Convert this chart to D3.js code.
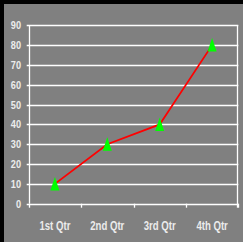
<!DOCTYPE html>
<html><head><meta charset="utf-8">
<script src="https://cdn.jsdelivr.net/npm/d3@7"></script>
<style>
html,body{margin:0;padding:0;background:#000;overflow:hidden;}
svg{display:block;}
</style></head>
<body>
<script>
const categories = ["1st Qtr","2nd Qtr","3rd Qtr","4th Qtr"];
const values = [10, 30, 40, 80];
const yTicks = [0,10,20,30,40,50,60,70,80,90];

(function(){
const W = 243, H = 242;
const svg = d3.select("body").append("svg").attr("width", W).attr("height", H);
svg.append("rect").attr("width", W).attr("height", H).attr("fill", "#000");
svg.append("rect").attr("x", 4).attr("y", 4).attr("width", W - 4).attr("height", H - 4).attr("fill", "#808080");

const mLeft = 28.7, mRight = 238.3, mTop = 25.3, mBottom = 203.7;
const x = d3.scaleBand().domain(categories).range([mLeft, mRight]).padding(0);
const y = d3.scaleLinear().domain([0, 90]).range([mBottom, mTop]);
const font = "'Liberation Sans',Arial,sans-serif";
const sx = 0.8;

svg.append("g").selectAll("line").data(yTicks).join("line")
  .attr("x1", mLeft - 2).attr("x2", mRight)
  .attr("y1", d => Math.round(y(d)) + 0.5).attr("y2", d => Math.round(y(d)) + 0.5)
  .attr("stroke", "#ffffff").attr("stroke-width", 1.3);

svg.append("line").attr("x1", Math.round(mLeft)+0.5).attr("x2", Math.round(mLeft)+0.5)
  .attr("y1", mTop).attr("y2", mBottom).attr("stroke", "#fff").attr("stroke-width", 1.3);
svg.append("line").attr("x1", Math.round(mRight)-0.5).attr("x2", Math.round(mRight)-0.5)
  .attr("y1", mTop).attr("y2", mBottom + 4).attr("stroke", "#fff").attr("stroke-width", 1.3);

const xt = categories.map(c => x(c)).concat([mRight]);
svg.append("g").selectAll("line").data(xt).join("line")
  .attr("x1", d => Math.round(d) + 0.5).attr("x2", d => Math.round(d) + 0.5)
  .attr("y1", mBottom).attr("y2", mBottom + 4)
  .attr("stroke", "#fff").attr("stroke-width", 1.3);

svg.append("g").selectAll("text").data(yTicks).join("text")
  .attr("transform", d => `translate(21,${y(d) + 4}) scale(${sx},1)`)
  .attr("text-anchor", "end")
  .attr("font-family", font).attr("font-size", 11.5).attr("font-weight", "bold")
  .attr("fill", "#ececec").text(d => d);

svg.append("g").selectAll("text").data(categories).join("text")
  .attr("transform", d => `translate(${x(d) + x.bandwidth() / 2},229.5) scale(${sx},1)`)
  .attr("text-anchor", "middle")
  .attr("font-family", font).attr("font-size", 12).attr("font-weight", "bold")
  .attr("fill", "#ececec").text(d => d);

const pts = categories.map((c, i) => [x(c) + x.bandwidth() / 2, y(values[i])]);
svg.append("path").attr("d", d3.line()(pts))
  .attr("fill", "none").attr("stroke", "#ff0000").attr("stroke-width", 1.8);

svg.append("g").selectAll("path").data(pts).join("path")
  .attr("d", d => `M${d[0]},${d[1] - 7}L${d[0] + 4.5},${d[1] + 6.5}L${d[0] - 4.5},${d[1] + 6.5}Z`)
  .attr("fill", "#00ff00");
})();
</script>
</body></html>
